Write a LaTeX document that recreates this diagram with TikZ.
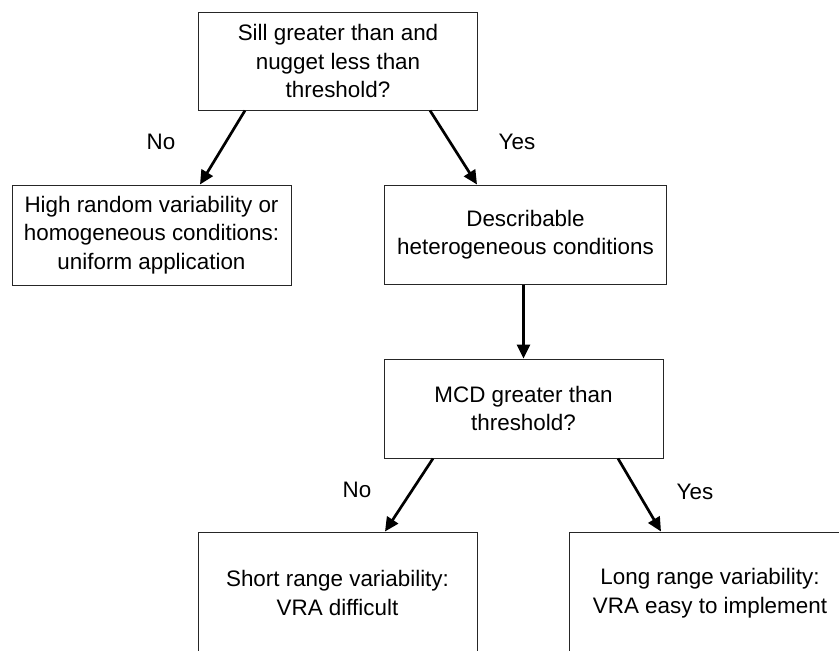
\documentclass[tikz,border=0pt]{standalone}
\usepackage{fontspec}
\setmainfont{Liberation Sans}
\usetikzlibrary{arrows.meta}
\begin{document}
\begin{tikzpicture}[x=1pt,y=-1pt,
  box/.style={draw=black!85, line width=1pt, align=center, inner sep=0pt,
    font=\fontsize{22.4}{28.5}\selectfont},
  arr/.style={line width=2.7pt, -{Triangle[length=14pt,width=13pt]}},
  lbl/.style={inner sep=0pt, font=\fontsize{22.4}{28.5}\selectfont}]
\clip (0,0) rectangle (839,651);
\node[box, minimum width=279pt, minimum height=98pt] (top) at (338,61)
  {Sill greater than and\\nugget less than\\threshold?};
\node[box, minimum width=279pt, minimum height=100pt] (left) at (151.5,235)
  {High random variability or\\homogeneous conditions:\\uniform application};
\node[box, minimum width=282pt, minimum height=99pt] (mid) at (525.5,234.5)
  {Describable\\heterogeneous conditions};
\node[box, minimum width=279pt, minimum height=99pt] (mcd) at (523.5,408.5)
  {MCD greater than\\threshold?};
\node[box, minimum width=279pt, minimum height=122pt] (bl) at (337.5,593)
  {Short range variability:\\VRA difficult};
\node[box, minimum width=282pt, minimum height=122pt] (br) at (710,593)
  {Long range variability:\\VRA easy to implement};
\node[lbl] (no1) at (161,142) {No};
\node[lbl] (yes1) at (517,142) {Yes};
\node[lbl] (no2) at (357,490) {No};
\node[lbl] (yes2) at (695,492) {Yes};
\draw[arr] ([xshift=-93pt]top.south) -- ([xshift=48.5pt]left.north);
\draw[arr] ([xshift=92pt]top.south) -- ([xshift=-48.5pt]mid.north);
\draw[arr] (mcd.north |- mid.south) -- (mcd.north);
\draw[arr] ([xshift=-90.5pt]mcd.south) -- ([xshift=47.5pt]bl.north);
\draw[arr] ([xshift=94.5pt]mcd.south) -- ([xshift=-49pt]br.north);
\end{tikzpicture}
\end{document}
